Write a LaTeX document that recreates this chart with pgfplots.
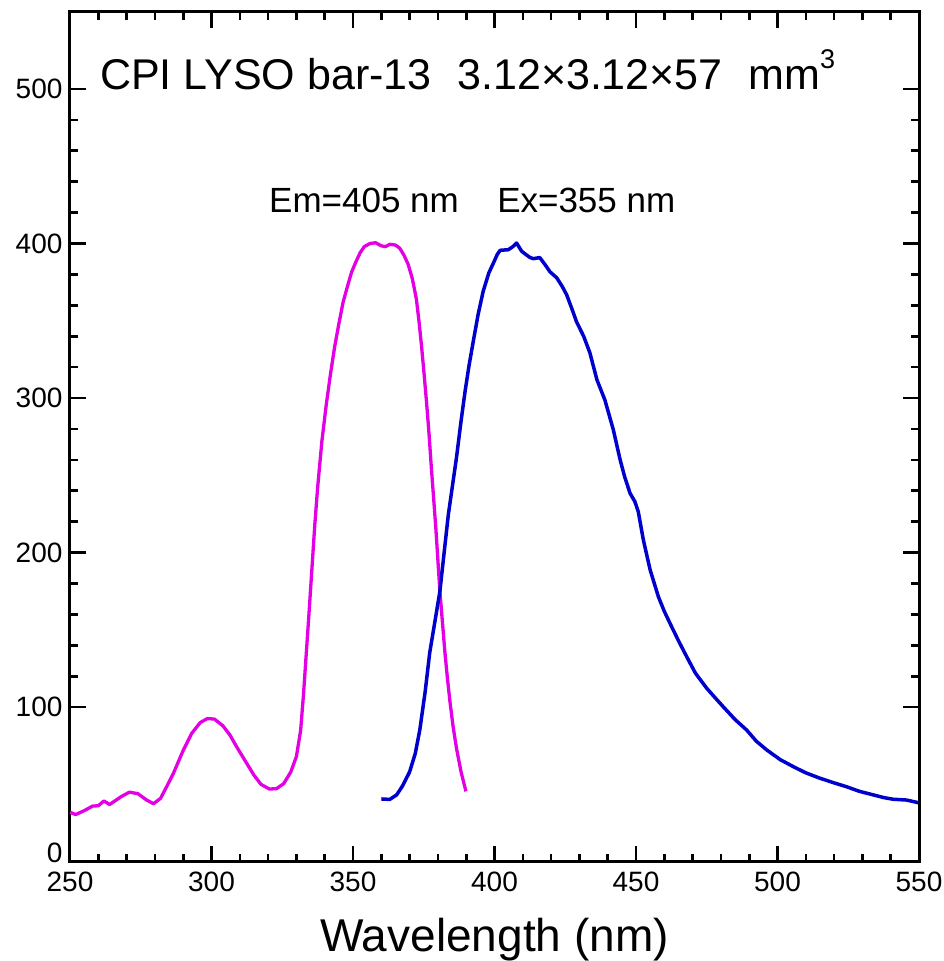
\documentclass[border=0pt]{standalone}
\usepackage{fontspec}
\setmainfont{Liberation Sans}
\usepackage{pgfplots}
\pgfplotsset{compat=1.18}
\definecolor{mag}{RGB}{228,0,228}
\definecolor{blu}{RGB}{0,0,205}
\begin{document}
\begin{tikzpicture}
\useasboundingbox (-70pt,-99.3pt) rectangle (874pt,861.7pt);
\begin{axis}[
  at={(0,0)}, anchor=south west,
  width=849pt, height=850pt, scale only axis,
  xmin=250, xmax=550, ymin=0, ymax=550,
  xtick={250,300,...,550}, ytick={100,200,...,500},
  extra y ticks={0},
  extra y tick style={yticklabel style={yshift=9pt}},
  minor x tick num=4, minor y tick num=4,
  tick align=inside,
  major tick length=16pt, minor tick length=8pt,
  axis line style={line width=3pt, black},
  tick style={line width=2.6pt, black},
  tick label style={font=\fontsize{28}{33}\selectfont},
  xticklabel style={yshift=-7pt},
  yticklabel style={xshift=-4pt},
  /pgf/number format/assume math mode=true,
  /pgf/number format/1000 sep={},
  xlabel={Wavelength (nm)},
  xlabel style={font=\fontsize{46}{54}\selectfont, at={(axis description cs:0.5,0)}, anchor=base, yshift=-90pt},
]
\addplot[mag, line width=3.3pt, line join=round] coordinates {
(250,32) (252,30.5) (255,33) (258,36) (260,36.2) (262,39.3) (264,37) (266,39.5) (268,42) (271,45) (274,44) (277,40) (279.5,37.5) (282,41) (284,48) (286.5,57) (290,72) (293,83) (296,90) (298.5,92.6) (301,92.3) (304,88) (306.5,82) (309,74) (312,65) (315,56) (317.5,50) (320.5,47) (323,47.3) (325.5,50.5) (328,58) (330,68) (331.5,85) (332.5,108) (333.5,135) (334.5,162) (335.5,190) (336.5,218) (337.5,242) (339,272) (340.5,295) (342,315) (343.5,333) (345,348) (346.5,362) (348,372) (349.5,381.5) (351,388) (352.5,394) (354,398) (356,400) (358,400.5) (360,398.5) (361.5,398) (363,399.5) (365,399) (366.5,397) (368,392.5) (369.5,386.5) (371,377) (372.4,364) (373.3,350) (374.2,334) (375.1,316) (376,297) (376.9,276) (377.7,254.5) (378.5,235) (379.3,215) (380,195) (380.7,175) (381.6,155) (382.5,135) (383.4,118) (384.3,103) (385.4,87) (386.6,73) (388.2,58) (389.9,45.5)
};
\addplot[blu, line width=3.5pt, line join=round] coordinates {
(360,40.6) (363,40.3) (365.4,43.2) (367.5,49) (370,58.1) (372,70) (373.6,85.2) (375.5,110) (377.1,135.1) (379,156) (380.7,174.9) (382.2,200) (383.7,224.7) (385.2,244) (386.6,261.9) (388.1,284) (389.6,304.3) (391,321) (392.5,336.7) (394.2,354) (396,369.1) (398,381) (399.6,387.3) (401,393) (402,395.6) (404.9,396) (406.5,398) (407.8,400.3) (409.6,395) (411,393) (412.5,391) (413.7,390.2) (416,390.9) (418,386) (419.6,381.7) (422,377.8) (424,372) (425.5,366.8) (427.5,357) (429,349.3) (431.5,340) (433.7,329.3) (436.2,311.8) (439,298.8) (442,279.4) (444.4,260) (446,249) (447.9,238.4) (449.6,233) (450.8,226.5) (452.6,208.2) (455,188.8) (457.9,171.5) (460,162) (462,154.3) (465,143) (467.9,132.7) (471,122) (475,112.2) (478,106) (480.8,100.3) (485,92) (489.1,85.2) (492.5,78) (496.2,72.3) (501,66) (505.6,61.5) (510,57.5) (515,54) (520,51) (524.4,48.5) (529,45.5) (533.9,43.2) (537.5,41.5) (540.9,40.4) (545.6,39.9) (549.7,38.2)
};
\node[anchor=base west, inner sep=0pt, font=\fontsize{43}{50}\selectfont] at (axis description cs:0.0353,0.909) {CPI LYSO bar-13\hspace{0.6em}3.12×3.12×57\hspace{0.6em}mm\raisebox{21pt}{\fontsize{27}{27}\selectfont 3}};
\node[anchor=base west, inner sep=0pt, font=\fontsize{35}{42}\selectfont] at (axis description cs:0.2344,0.7632) {Em=405 nm};
\node[anchor=base west, inner sep=0pt, font=\fontsize{35}{42}\selectfont] at (axis description cs:0.503,0.7632) {Ex=355 nm};
\end{axis}
\end{tikzpicture}
\end{document}
